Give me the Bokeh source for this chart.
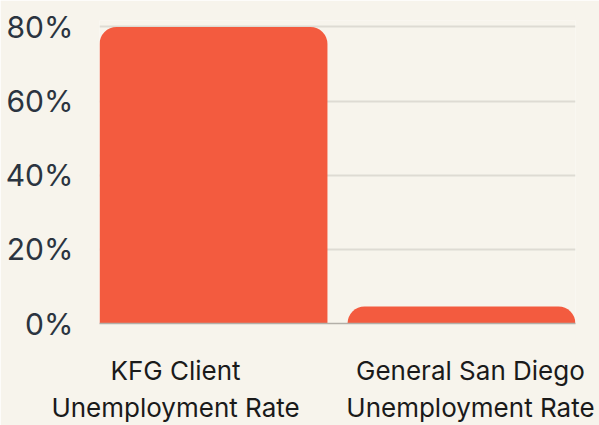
from bokeh.plotting import figure
from bokeh.models import ColumnDataSource, FixedTicker, Range1d
from bokeh.embed import file_html
from bokeh.resources import INLINE

categories = ["KFG Client\nUnemployment Rate", "General San Diego\nUnemployment Rate"]
values = [80.0, 4.6]
y_ticks = [0, 20, 40, 60, 80]
y_tick_labels = ["0%", "20%", "40%", "60%", "80%"]

xs = list(range(len(categories)))
# label placement (layout): slight offsets like the original
label_offsets = [-0.153, 0.036]
label_pos = [x + o for x, o in zip(xs, label_offsets)]

src = ColumnDataSource(dict(x=xs, top=values))

BG = "#f7f4ec"
p = figure(width=599, height=425, output_backend="svg", toolbar_location=None,
           x_range=Range1d(-0.4597, 1.4597), y_range=Range1d(0, 81.75),
           background_fill_color=BG, border_fill_color=BG,
           min_border_left=99, min_border_right=24, min_border_top=20, min_border_bottom=102)
p.outline_line_color = None

p.vbar(x="x", top="top", bottom=0, width=0.919, source=src,
       fill_color="#f35b3f", line_color=None, border_radius=(17, 17, 0, 0))

p.xgrid.grid_line_color = None
p.ygrid.grid_line_color = "#dedbd3"
p.ygrid.grid_line_width = 2
p.yaxis.ticker = FixedTicker(ticks=y_ticks)
p.yaxis.major_label_overrides = {t: l for t, l in zip(y_ticks, y_tick_labels)}
p.yaxis.axis_line_color = None
p.yaxis.major_tick_line_color = None
p.yaxis.minor_tick_line_color = None
p.yaxis.major_tick_out = 0
p.yaxis.major_tick_in = 0
p.yaxis.minor_tick_out = 0
p.yaxis.major_label_text_font = "Inter"
p.yaxis.major_label_text_font_size = "30px"
p.yaxis.major_label_text_color = "#2b3440"
p.yaxis.major_label_standoff = 26

p.xaxis.ticker = FixedTicker(ticks=label_pos)
p.xaxis.major_label_overrides = {t: l for t, l in zip(label_pos, categories)}
p.xaxis.axis_line_color = "#b3afa8"
p.xaxis.axis_line_width = 1.5
p.xaxis.major_tick_line_color = None
p.xaxis.minor_tick_line_color = None
p.xaxis.major_tick_out = 0
p.xaxis.major_tick_in = 0
p.xaxis.minor_tick_out = 0
p.xaxis.major_label_text_font = "Inter"
p.xaxis.major_label_text_font_size = "26px"
p.xaxis.major_label_text_color = "#1a1a1a"
p.xaxis.major_label_standoff = 31
p.xaxis.major_label_text_align = "center"

open("out.html", "w").write(file_html(p, INLINE))
